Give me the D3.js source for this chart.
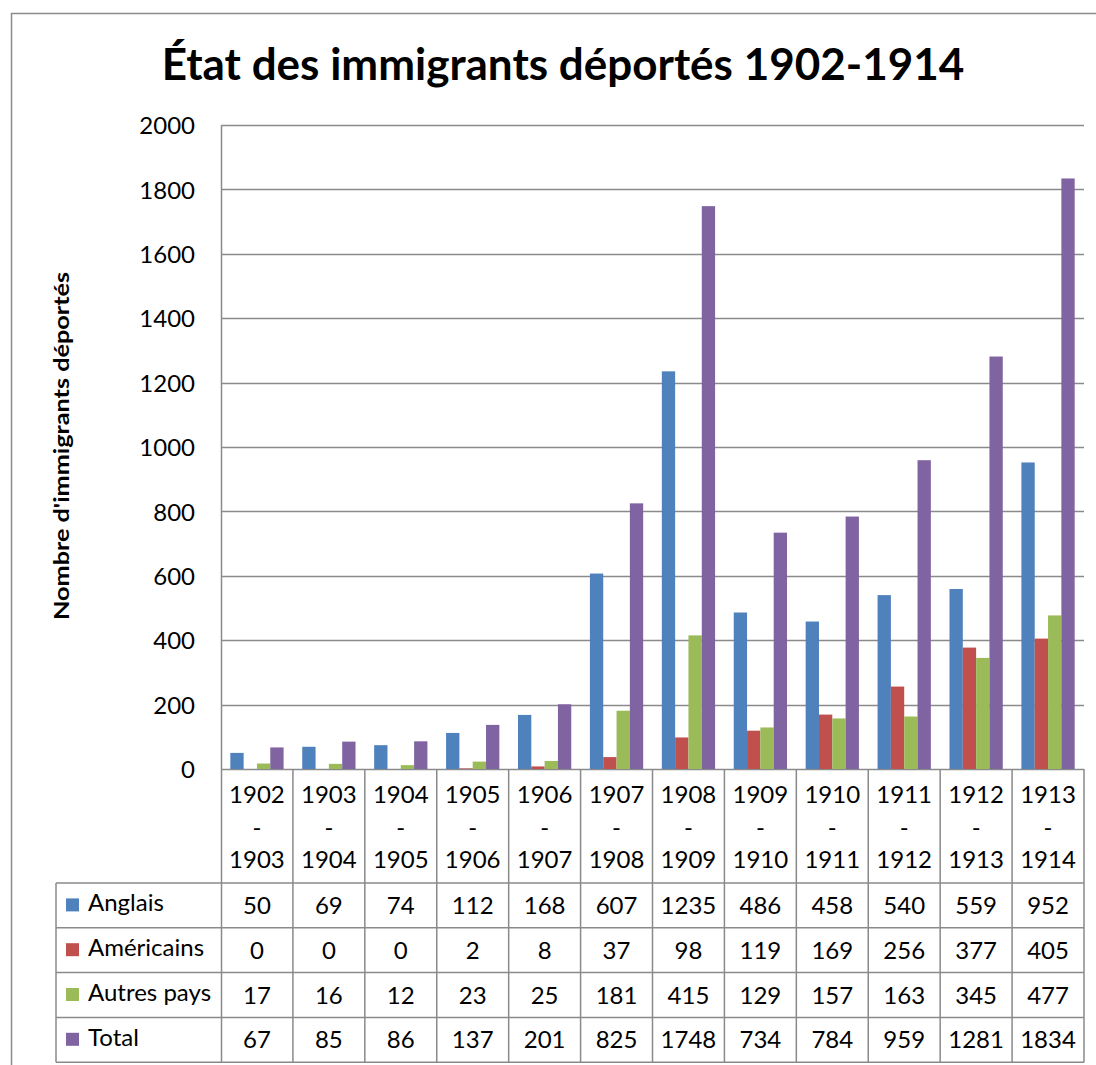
<!DOCTYPE html>
<html>
<head>
<meta charset="utf-8">
<script src="https://cdn.jsdelivr.net/npm/d3@7"></script>
<style>
  body { margin: 0; background: #fff; }
  svg text { font-family: Lato, "Open Sans", sans-serif; fill: #000; }
</style>
</head>
<body>
<div id="chart"></div>
<script>
var periods = ["1902-1903", "1903-1904", "1904-1905", "1905-1906", "1906-1907", "1907-1908",
  "1908-1909", "1909-1910", "1910-1911", "1911-1912", "1912-1913", "1913-1914"];
var anglais = [50, 69, 74, 112, 168, 607, 1235, 486, 458, 540, 559, 952];
var americains = [0, 0, 0, 2, 8, 37, 98, 119, 169, 256, 377, 405];
var autresPays = [17, 16, 12, 23, 25, 181, 415, 129, 157, 163, 345, 477];
var total = [67, 85, 86, 137, 201, 825, 1748, 734, 784, 959, 1281, 1834];
var seriesNames = ["Anglais", "Américains", "Autres pays", "Total"];
var seriesColors = ["#4F81BD", "#C0504D", "#9BBB59", "#8064A2"];
var yTicks = [0, 200, 400, 600, 800, 1000, 1200, 1400, 1600, 1800, 2000];

var seriesValues = [anglais, americains, autresPays, total];

var width = 1096, height = 1065;
var plotLeft = 221, plotRight = 1084, plotTop = 125, plotBottom = 769;
var headerBottom = 883, rowH = 44.8, legendLeft = 56;
var gridColor = "#8a8a8a";

var svg = d3.select("#chart").append("svg")
  .attr("width", width)
  .attr("height", height);

// outer chart frame
svg.append("rect")
  .attr("x", 11.5).attr("y", 13.5)
  .attr("width", 1100).attr("height", 1100)
  .attr("fill", "none")
  .attr("stroke", "#8c8c8c")
  .attr("stroke-width", 1.5);

// title
svg.append("text")
  .attr("x", 563).attr("y", 80)
  .attr("text-anchor", "middle")
  .style("font-size", "44px")
  .style("font-weight", "bold")
  .text("État des immigrants déportés 1902-1914");

var x = d3.scaleBand().domain(periods).range([plotLeft, plotRight]);
var y = d3.scaleLinear().domain([0, 2000]).range([plotBottom, plotTop]);
// 4 bars in each category, 0.7 bar width gap on either side
var xInner = d3.scaleBand().domain(seriesNames)
  .range([0, x.bandwidth()]).paddingOuter(0.7).paddingInner(0);

// gridlines
svg.append("g")
  .selectAll("line")
  .data(yTicks)
  .enter()
  .append("line")
  .attr("x1", plotLeft).attr("x2", plotRight)
  .attr("y1", function (d) { return Math.round(y(d)) + 0.5; })
  .attr("y2", function (d) { return Math.round(y(d)) + 0.5; })
  .attr("stroke", gridColor)
  .attr("stroke-width", 1.5);

// y axis labels
var yAxis = d3.axisLeft(y).tickValues(yTicks).tickFormat(d3.format("d"))
  .tickSize(0).tickPadding(26);
var yAxisG = svg.append("g")
  .attr("transform", "translate(" + plotLeft + ",0)")
  .call(yAxis);
yAxisG.select(".domain").remove();
yAxisG.selectAll("text")
  .style("font-size", "24px")
  .style("font-family", "Lato, sans-serif")
  .attr("dy", "0.36em");

// y axis title
svg.append("text")
  .attr("transform", "translate(69,446) rotate(-90)")
  .attr("text-anchor", "middle")
  .attr("textLength", 348)
  .attr("lengthAdjust", "spacingAndGlyphs")
  .style("font-size", "21px")
  .style("font-weight", "bold")
  .text("Nombre d'immigrants déportés");

// bars
var groups = svg.append("g")
  .selectAll("g")
  .data(seriesValues)
  .enter()
  .append("g")
  .attr("fill", function (d, i) { return seriesColors[i]; });

groups.selectAll("rect")
  .data(function (d, i) {
    return d.map(function (v, j) { return { s: seriesNames[i], p: periods[j], v: v }; });
  })
  .enter()
  .append("rect")
  .attr("x", function (d) { return x(d.p) + xInner(d.s); })
  .attr("width", xInner.bandwidth())
  .attr("y", function (d) { return y(d.v); })
  .attr("height", function (d) { return plotBottom - y(d.v); });

// data table
var tableBottom = headerBottom + rowH * seriesNames.length;
var table = svg.append("g").attr("stroke", gridColor).attr("stroke-width", 1.5);

// vertical y axis line, down through the table
table.append("line")
  .attr("x1", plotLeft + 0.5).attr("x2", plotLeft + 0.5)
  .attr("y1", plotTop).attr("y2", tableBottom);

// category column dividers
table.selectAll(".col")
  .data(periods.slice(1).concat(["end"]))
  .enter()
  .append("line")
  .attr("class", "col")
  .attr("x1", function (d) { return d === "end" ? plotRight : x(d); })
  .attr("x2", function (d) { return d === "end" ? plotRight : x(d); })
  .attr("y1", plotBottom).attr("y2", tableBottom);

// legend column left edge
table.append("line")
  .attr("x1", legendLeft).attr("x2", legendLeft)
  .attr("y1", headerBottom).attr("y2", tableBottom);

// row lines
table.selectAll(".row")
  .data(d3.range(seriesNames.length + 1))
  .enter()
  .append("line")
  .attr("class", "row")
  .attr("x1", legendLeft).attr("x2", plotRight)
  .attr("y1", function (d) { return headerBottom + d * rowH; })
  .attr("y2", function (d) { return headerBottom + d * rowH; });

// header: period split onto three lines
var headers = svg.append("g")
  .selectAll("text")
  .data(periods)
  .enter()
  .append("text")
  .attr("text-anchor", "middle")
  .style("font-size", "24px");

headers.each(function (p) {
  var parts = [p.split("-")[0], "-", p.split("-")[1]];
  var t = d3.select(this);
  parts.forEach(function (s, k) {
    t.append("tspan")
      .attr("x", x(p) + x.bandwidth() / 2)
      .attr("y", 803 + k * 32.5)
      .text(s);
  });
});

// table rows
seriesNames.forEach(function (name, i) {
  var rowMid = headerBottom + rowH * i + rowH / 2;
  svg.append("rect")
    .attr("x", 66).attr("y", rowMid - 7)
    .attr("width", 13).attr("height", 13)
    .attr("fill", seriesColors[i]);
  svg.append("text")
    .attr("x", 88).attr("y", rowMid + 6)
    .style("font-size", "24px")
    .text(name);
  svg.append("g")
    .selectAll("text")
    .data(seriesValues[i])
    .enter()
    .append("text")
    .attr("x", function (d, j) { return x(periods[j]) + x.bandwidth() / 2; })
    .attr("y", rowMid + 8.5)
    .attr("text-anchor", "middle")
    .style("font-size", "24px")
    .text(function (d) { return d; });
});
</script>
</body>
</html>
